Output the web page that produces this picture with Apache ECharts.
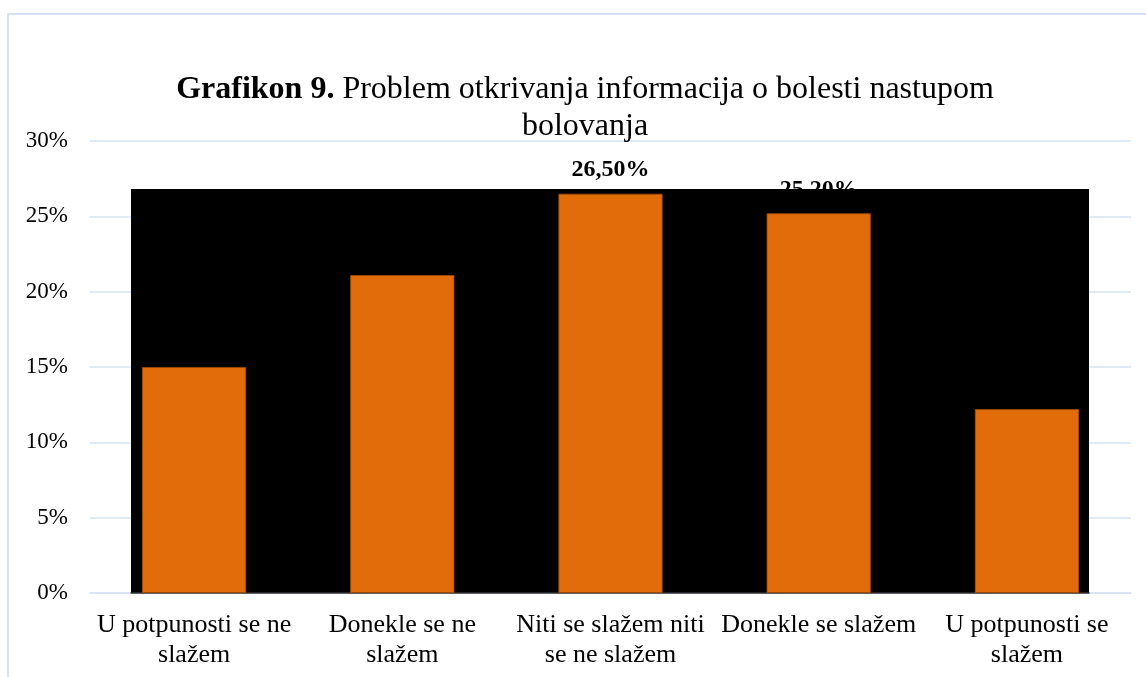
<!DOCTYPE html>
<html>
<head>
<meta charset="utf-8">
<script src="https://cdn.jsdelivr.net/npm/echarts@6/dist/echarts.min.js"></script>
<style>
  html, body { margin: 0; padding: 0; background: #fff; }
  #chart { width: 1146px; height: 677px; }
</style>
</head>
<body>
<div id="chart"></div>
<script>
// Grafikon 9 - odgovori u postocima
const categories = [
  "U potpunosti se ne\nslažem",
  "Donekle se ne\nslažem",
  "Niti se slažem niti\nse ne slažem",
  "Donekle se slažem",
  "U potpunosti se\nslažem"
];
const values = [15.0, 21.1, 26.5, 25.2, 12.2];
const yTicks = { min: 0, max: 30, interval: 5 };

const serif = "'Liberation Serif', 'DejaVu Serif', serif";
const gridColor = "#d6e2f3";

let myChart = echarts.init(document.getElementById("chart"));

let option = {
  backgroundColor: "#fff",
  title: {
    text: "{b|Grafikon 9.} Problem otkrivanja informacija o bolesti nastupom\nbolovanja",
    left: 580,
    top: 66,
    textAlign: "center",
    textStyle: {
      fontFamily: serif,
      fontSize: 32,
      fontWeight: "normal",
      color: "#000",
      lineHeight: 37,
      align: "center",
      rich: {
        b: { fontFamily: serif, fontSize: 32, fontWeight: "bold", color: "#000", lineHeight: 37 }
      }
    }
  },
  graphic: [
    {
      type: "rect",
      z: -10,
      silent: true,
      shape: { x: 8, y: 14, width: 1200, height: 700 },
      style: { fill: "none", stroke: gridColor, lineWidth: 2 }
    }
  ],
  grid: [
    { left: 90, right: 15, top: 141, bottom: 84 },
    {
      // the black panel behind the bars, covering the split lines
      left: 131, right: 57, top: 189, bottom: 84,
      show: true, backgroundColor: "#000", borderWidth: 0, z: 3
    }
  ],
  xAxis: [
    {
      type: "category",
      gridIndex: 0,
      data: categories,
      axisLine: { show: true, lineStyle: { color: gridColor, width: 1.5 } },
      axisTick: { show: false },
      axisLabel: {
        fontFamily: serif,
        fontSize: 26,
        color: "#000",
        lineHeight: 30,
        margin: 17,
        interval: 0
      }
    },
    {
      type: "category",
      gridIndex: 1,
      data: categories,
      z: 4,
      axisLine: { show: true, lineStyle: { color: "#333", width: 1.5 } },
      axisTick: { show: false },
      axisLabel: { show: false }
    }
  ],
  yAxis: [
    {
      type: "value",
      gridIndex: 0,
      min: yTicks.min,
      max: yTicks.max,
      interval: yTicks.interval,
      axisLine: { show: false },
      axisTick: { show: false },
      splitLine: { lineStyle: { color: gridColor, width: 1.5 } },
      axisLabel: {
        formatter: "{value}%",
        fontFamily: serif,
        fontSize: 23,
        color: "#000",
        margin: 22
      }
    },
    {
      type: "value",
      gridIndex: 1,
      show: false,
      splitLine: { show: false }
    }
  ],
  series: [
    {
      type: "bar",
      xAxisIndex: 0,
      yAxisIndex: 0,
      data: values,
      barWidth: "50%",
      z: 5,
      itemStyle: {
        color: "#e36c0a",
        borderColor: "#a34d06",
        borderWidth: 0.8
      },
      label: {
        show: true,
        position: "top",
        distance: 12,
        fontFamily: serif,
        fontSize: 24,
        fontWeight: "bold",
        color: "#000",
        formatter: function (p) {
          return p.value.toFixed(2).replace(".", ",") + "%";
        }
      }
    }
  ]
};

if (option && typeof option === "object") {
  myChart.setOption(option);
}
window.addEventListener("resize", myChart.resize);
</script>
</body>
</html>
